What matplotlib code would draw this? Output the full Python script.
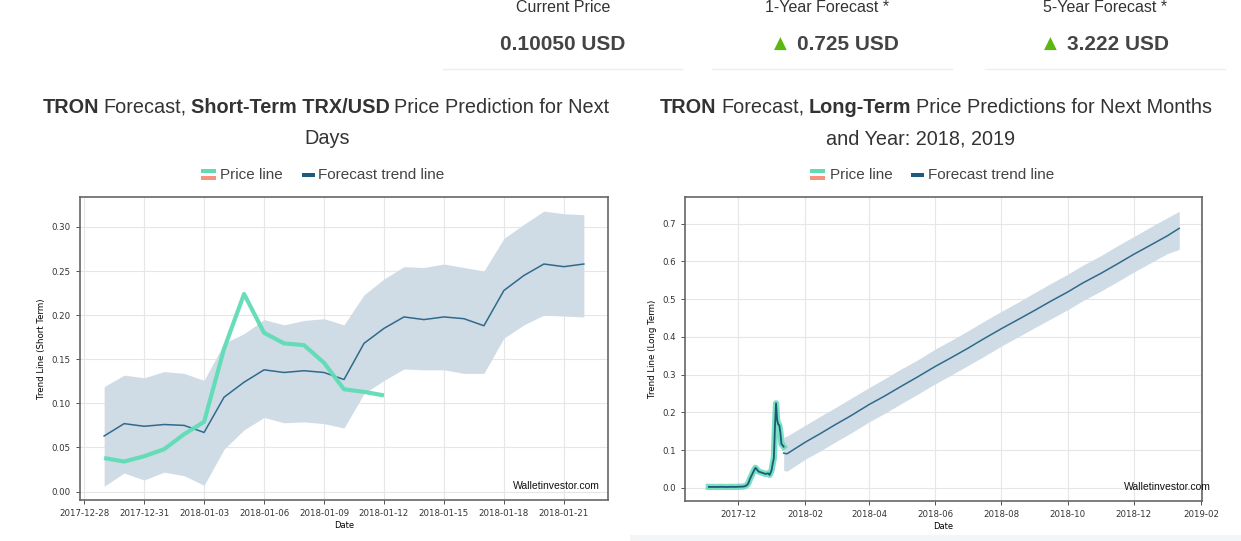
import numpy as np
import pandas as pd
import matplotlib
matplotlib.use("Agg")
import matplotlib.pyplot as plt
import matplotlib.dates as mdates
from matplotlib.patches import Rectangle
from matplotlib.lines import Line2D

W, H = 1241, 541

# ---- short term data (daily) ----
st_dates = pd.date_range("2017-12-29", "2018-01-22", freq="D")
st_trend = [0.063, 0.077, 0.074, 0.076, 0.075, 0.067, 0.107, 0.124, 0.138, 0.135,
            0.137, 0.135, 0.127, 0.168, 0.185, 0.198, 0.195, 0.198, 0.196, 0.188,
            0.228, 0.245, 0.258, 0.255, 0.258]
st_upper = [0.119, 0.132, 0.129, 0.136, 0.134, 0.126, 0.168, 0.179, 0.195, 0.189,
            0.194, 0.196, 0.189, 0.223, 0.241, 0.255, 0.254, 0.258, 0.254, 0.250,
            0.287, 0.303, 0.318, 0.315, 0.314]
st_lower = [0.006, 0.021, 0.013, 0.022, 0.018, 0.007, 0.048, 0.070, 0.084, 0.078,
            0.079, 0.077, 0.072, 0.111, 0.126, 0.139, 0.138, 0.138, 0.134, 0.134,
            0.174, 0.189, 0.200, 0.199, 0.198]
st_price_dates = pd.date_range("2017-12-29", "2018-01-12", freq="D")
st_price = [0.038, 0.034, 0.040, 0.048, 0.065, 0.079, 0.162, 0.224, 0.180, 0.168,
            0.166, 0.146, 0.116, 0.113, 0.109]

# ---- long term data ----
lt_hist_dates = pd.date_range("2017-11-04", "2018-01-12", freq="D")
lt_hist = [0.0024, 0.0023, 0.0022, 0.0023, 0.0024, 0.0023, 0.0022, 0.0021, 0.0022,
           0.0023, 0.0024, 0.0025, 0.0025, 0.0024, 0.0023, 0.0023, 0.0022, 0.0022,
           0.0023, 0.0024, 0.0025, 0.0026, 0.0025, 0.0024, 0.0024, 0.0025, 0.0026,
           # december
           0.0027, 0.0028, 0.0029, 0.0030, 0.0031, 0.0034, 0.0040, 0.0050, 0.0070,
           0.010, 0.016, 0.024, 0.030, 0.036, 0.042, 0.048, 0.053, 0.050, 0.046,
           0.043, 0.042, 0.041, 0.040, 0.039, 0.038, 0.037, 0.037, 0.038, 0.038,
           0.034, 0.040,
           # january
           0.048, 0.065, 0.079, 0.162, 0.224, 0.180, 0.168, 0.166, 0.146, 0.116,
           0.113, 0.109]
lt_dates = pd.to_datetime([
    "2018-01-12", "2018-01-15", "2018-02-01", "2018-02-15", "2018-03-01", "2018-03-15",
    "2018-04-01", "2018-04-15", "2018-05-01", "2018-05-15", "2018-06-01", "2018-06-15",
    "2018-07-01", "2018-07-15", "2018-08-01", "2018-08-15", "2018-09-01", "2018-09-15",
    "2018-10-01", "2018-10-15", "2018-11-01", "2018-11-15", "2018-12-01", "2018-12-15",
    "2019-01-01", "2019-01-12"])
lt_trend = [0.092, 0.090, 0.121, 0.144, 0.168, 0.191, 0.221, 0.243, 0.270, 0.293,
            0.322, 0.344, 0.370, 0.394, 0.422, 0.444, 0.471, 0.494, 0.519, 0.543,
            0.569, 0.592, 0.619, 0.641, 0.668, 0.688]
lt_upper = [0.134, 0.137, 0.166, 0.190, 0.213, 0.237, 0.266, 0.289, 0.316, 0.338,
            0.368, 0.390, 0.416, 0.440, 0.468, 0.490, 0.518, 0.541, 0.566, 0.590,
            0.616, 0.640, 0.666, 0.689, 0.716, 0.733]
lt_lower = [0.046, 0.044, 0.076, 0.098, 0.122, 0.145, 0.175, 0.197, 0.224, 0.247,
            0.276, 0.298, 0.324, 0.347, 0.376, 0.398, 0.425, 0.447, 0.472, 0.496,
            0.522, 0.545, 0.572, 0.594, 0.621, 0.632]

# header values
header_labels = ["Current Price", "1-Year Forecast *", "5-Year Forecast *"]
header_values = ["0.10050 USD", "0.725 USD", "3.222 USD"]

MINT = "#5fdcb6"
SALMON = "#f7927f"
DARK = "#2f6a8d"
FILL = "#cfdce5"
TXT = "#333333"

plt.rcParams["font.family"] = ["Liberation Sans", "DejaVu Sans"]

fig = plt.figure(figsize=(W / 100, H / 100), dpi=100)
fig.patch.set_facecolor("white")


def fx(x):
    return x / W


def fy(y):
    return 1 - y / H


def rich_line(cx, cy, parts, size=14.3, gap=4.5):
    texts = []
    for s, w in parts:
        texts.append(fig.text(0, fy(cy), s, fontsize=size, fontweight=w, color=TXT,
                              va="center", ha="left"))
    r = fig.canvas.get_renderer()
    widths = [t.get_window_extent(r).width for t in texts]
    total = sum(widths) + gap * (len(texts) - 1)
    x = cx - total / 2
    for t, wd in zip(texts, widths):
        t.set_x(fx(x))
        x += wd + gap


# ---- header ----
fig.text(fx(563), fy(8), header_labels[0], fontsize=11.5, color=TXT, ha="center", va="center")
fig.text(fx(563), fy(44), header_values[0], fontsize=15, fontweight="bold", color="#444444",
         ha="center", va="center")
for lab, val, cx, tri_x in [(header_labels[1], header_values[1], 827, 780),
                            (header_labels[2], header_values[2], 1105, 1050)]:
    fig.text(fx(cx), fy(8), lab, fontsize=11.5, color=TXT, ha="center", va="center")
    fig.text(fx(tri_x), fy(44), "\u25b2", fontsize=12, color="#5cb811", ha="center",
             va="center", family="DejaVu Sans")
    fig.text(fx(tri_x + 17), fy(44), val, fontsize=15, fontweight="bold", color="#444444",
             ha="left", va="center")
for x0, x1 in [(443, 682), (712, 952), (985, 1225)]:
    fig.add_artist(Line2D([fx(x0), fx(x1)], [fy(69), fy(69)], color="#eeeeee", lw=1))

# bottom strip on right
fig.add_artist(Rectangle((fx(630), 0), fx(W - 630), 6 / H, color="#f4f5f6", lw=0))

# ---- titles ----
rich_line(326, 107, [("TRON", "bold"), ("Forecast,", "normal"),
                     ("Short-Term TRX/USD", "bold"), ("Price Prediction for Next", "normal")])
rich_line(327, 139, [("Days", "normal")])
rich_line(936, 107, [("TRON", "bold"), ("Forecast,", "normal"),
                     ("Long-Term", "bold"), ("Price Predictions for Next Months", "normal")])
rich_line(921, 139, [("and Year: 2018, 2019", "normal")])


def legend_row(x_mark, x_txt1, x_dash, x_txt2, y=175):
    fig.add_artist(Rectangle((fx(x_mark), fy(y - 2)), 15 / W, 4 / H, color=MINT, lw=0))
    fig.add_artist(Rectangle((fx(x_mark), fy(y + 5)), 15 / W, 4 / H, color=SALMON, lw=0))
    fig.text(fx(x_txt1), fy(y), "Price line", fontsize=11, color="#444444", va="center")
    fig.add_artist(Rectangle((fx(x_dash), fy(y + 1.5)), 13 / W, 3.5 / H, color="#1d5a7c", lw=0))
    fig.text(fx(x_txt2), fy(y), "Forecast trend line", fontsize=11, color="#444444", va="center")


legend_row(201, 220, 302, 318)
legend_row(810, 830, 911, 928)


def style_axes(ax, ylabel):
    ax.grid(True, color="#e6e6e6", lw=0.8)
    ax.set_axisbelow(True)
    for s in ax.spines.values():
        s.set_color("#666666")
        s.set_linewidth(1.2)
    ax.tick_params(labelsize=6.2, colors="#333333", length=3, width=0.6, direction="out")
    ax.set_xlabel("Date", fontsize=6, family="DejaVu Sans", labelpad=2)
    ax.set_ylabel(ylabel, fontsize=6.2, family="DejaVu Sans", labelpad=4)
    for lab in ax.get_xticklabels() + ax.get_yticklabels():
        lab.set_family("DejaVu Sans")


# ---- left chart ----
ax1 = fig.add_axes([fx(80), fy(500), (608 - 80) / W, (500 - 197) / H])
ax1.fill_between(st_dates, st_lower, st_upper, color=FILL, lw=0)
ax1.plot(st_dates, st_trend, color=DARK, lw=1.1)
ax1.plot(st_price_dates, st_price, color=MINT, lw=3, alpha=0.95, solid_capstyle="butt")
ax1.set_xticks(pd.date_range("2017-12-28", "2018-01-21", freq="3D"))
ax1.xaxis.set_major_formatter(mdates.DateFormatter("%Y-%m-%d"))
ax1.set_yticks(np.arange(0, 0.31, 0.05))
ax1.yaxis.set_major_formatter(matplotlib.ticker.FormatStrFormatter("%.2f"))
ax1.set_xlim(pd.Timestamp("2017-12-27 19:00"), pd.Timestamp("2018-01-23 05:00"))
ax1.set_ylim(-0.0096, 0.334)
style_axes(ax1, "Trend Line (Short Term)")
ax1.text(0.985, 0.046, "Walletinvestor.com", transform=ax1.transAxes, ha="right",
         va="center", fontsize=7.5, color="#111111")

# ---- right chart ----
ax2 = fig.add_axes([fx(685), fy(501), (1202 - 685) / W, (501 - 197) / H])
ax2.fill_between(lt_dates, lt_lower, lt_upper, color=FILL, lw=0)
ax2.plot(lt_dates, lt_trend, color=DARK, lw=1.1)
ax2.plot(lt_hist_dates, lt_hist, color=MINT, lw=4.5, alpha=0.85)
ax2.plot(lt_hist_dates, lt_hist, color="#1f5877", lw=1.3)
ax2.set_xticks(pd.to_datetime(["2017-12-01", "2018-02-01", "2018-04-01", "2018-06-01",
                               "2018-08-01", "2018-10-01", "2018-12-01", "2019-02-01"]))
ax2.xaxis.set_major_formatter(mdates.DateFormatter("%Y-%m"))
ax2.set_yticks(np.arange(0, 0.71, 0.1))
ax2.yaxis.set_major_formatter(matplotlib.ticker.FormatStrFormatter("%.1f"))
ax2.set_xlim(pd.Timestamp("2017-10-13"), pd.Timestamp("2019-02-02"))
ax2.set_ylim(-0.035, 0.771)
style_axes(ax2, "Trend Line (Long Term)")
ax2.text(1.017, 0.046, "Walletinvestor.com", transform=ax2.transAxes, ha="right",
         va="center", fontsize=7.5, color="#111111", clip_on=False)

fig.savefig("out.png", dpi=100)
